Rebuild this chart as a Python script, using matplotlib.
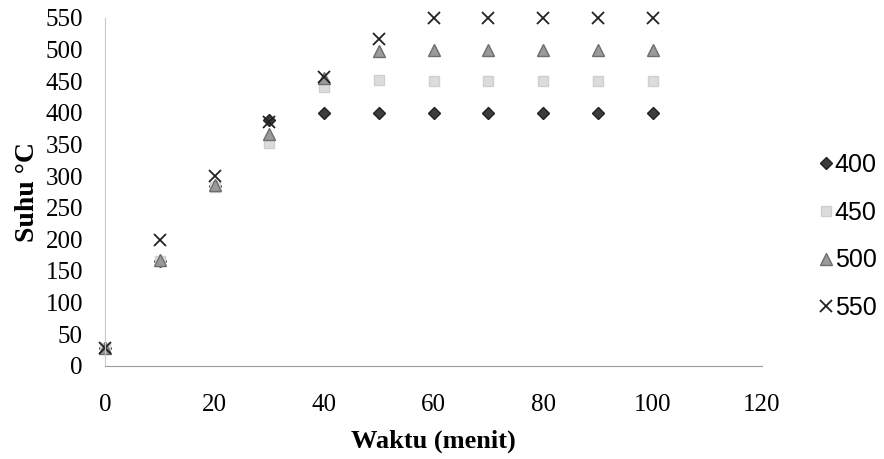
import matplotlib
matplotlib.use('Agg')
import matplotlib.pyplot as plt

plt.rcParams['font.family'] = ['Liberation Serif', 'DejaVu Serif']

# waktu (menit) and suhu per setpoint
waktu = [0, 10, 20, 30, 40, 50, 60, 70, 80, 90, 100]
suhu_400 = [28, 165, 285, 388, 400, 400, 400, 400, 400, 400, 400]
suhu_450 = [28, 165, 283, 353, 441, 452, 450, 450, 450, 450, 450]
suhu_500 = [28, 168, 286, 366, 455, 497, 500, 500, 500, 500, 500]
suhu_550 = [28, 199, 300, 386, 457, 517, 550, 550, 550, 550, 550]
labels = ['400', '450', '500', '550']

fig = plt.figure(figsize=(8.84, 4.59), dpi=100)
ax = fig.add_axes([0.119, 0.203, 0.743, 0.758])

ax.plot(waktu, suhu_400, linestyle='none', marker='D', markersize=6,
        color='#3c3c3c', markeredgecolor='#222222', label=labels[0], clip_on=False)
ax.plot(waktu, suhu_450, linestyle='none', marker='s', markersize=7,
        color='#dcdcdc', markeredgecolor='#cfcfcf', label=labels[1], clip_on=False)
ax.plot(waktu, suhu_500, linestyle='none', marker='^', markersize=8,
        color='#9a9a9a', markeredgecolor='#6e6e6e', label=labels[2], clip_on=False)
ax.plot(waktu, suhu_550, linestyle='none', marker='x', markersize=9,
        markeredgewidth=1.3, color='#222222', label=labels[3], clip_on=False)

ax.set_xlim(0, 120)
ax.set_ylim(0, 550)
ax.set_xticks(range(0, 121, 20))
ax.set_yticks(range(0, 551, 50))
ax.tick_params(length=0, labelsize=18)
ax.tick_params(axis='y', pad=16)
ax.tick_params(axis='x', pad=20)
for s in ['top', 'right']:
    ax.spines[s].set_visible(False)
ax.spines['left'].set_color('#c8c8c8')
ax.spines['bottom'].set_color('#9a9a9a')

ax.set_xlabel('Waktu (menit)', fontsize=19, fontweight='bold', labelpad=10)
ax.set_ylabel('Suhu °C', fontsize=20, fontweight='bold', labelpad=4)

fig.legend(loc='center left', bbox_to_anchor=(0.916, 0.485), frameon=False,
           borderaxespad=0, handlelength=0.5, handletextpad=0.1, labelspacing=0.95,
           prop={'family': 'Liberation Sans', 'size': 18})

fig.savefig('out.png', dpi=100)
